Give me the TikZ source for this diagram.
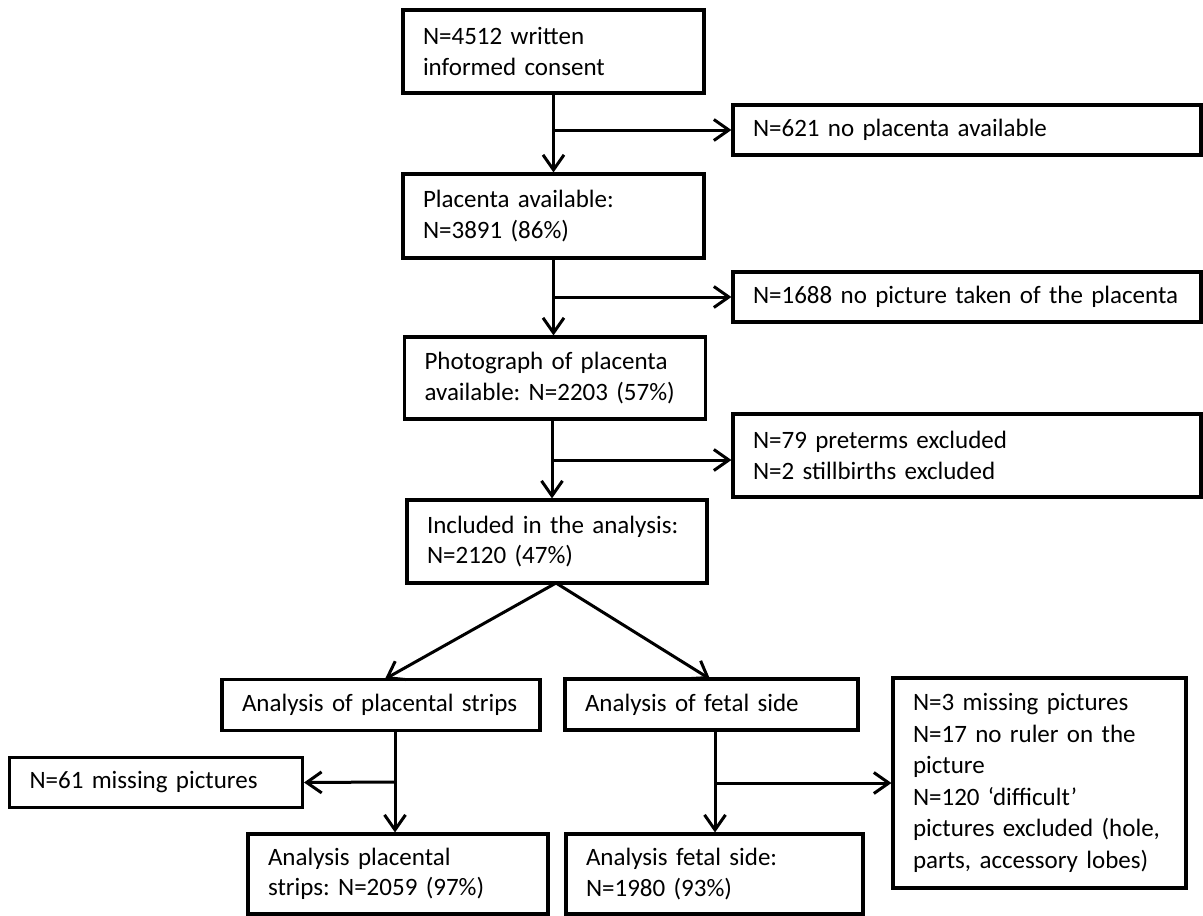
\documentclass[tikz,border=0pt]{standalone}
\usepackage{fontspec}
\setmainfont{Carlito}
\usetikzlibrary{arrows.meta}
\tikzset{
  box/.style={draw, line width=3.1pt, inner xsep=20pt, inner ysep=0pt, align=left,
    font=\fontsize{25}{30.5}\selectfont,
    execute at begin node={\frenchspacing\hyphenpenalty=10000\relax\exhyphenpenalty=10000\relax}},
  conn/.style={line width=3pt},
  arr/.style={conn, -{Straight Barb[length=15pt,width=21pt]}},
}
\begin{document}
\begin{tikzpicture}[x=1pt,y=-1pt]
\useasboundingbox (0,0) rectangle (1203,916);
% main column
\node[box, minimum width=301, minimum height=83, text width=261] (b1) at (553.5,51.5) {N=4512 written\\informed consent};
\node[box, minimum width=468, minimum height=50, text width=428] (s1) at (967,130) {N=621 no placenta available};
\node[box, minimum width=301, minimum height=84, text width=261] (b2) at (553.5,216) {Placenta available:\\N=3891 (86\%)};
\node[box, minimum width=468, minimum height=50, text width=428] (s2) at (967,297) {N=1688 no picture taken of the placenta};
\node[box, minimum width=301, minimum height=82, text width=261] (b3) at (555,378) {Photograph of placenta\\available: N=2203 (57\%)};
\node[box, minimum width=468, minimum height=83, text width=428] (s3) at (967,455.5) {N=79 preterms excluded\\N=2 stillbirths excluded};
\node[box, minimum width=300, minimum height=83, text width=260] (b4) at (557,541.5) {Included in the analysis:\\N=2120 (47\%)};
% second level
\node[box, minimum width=318, minimum height=51, text width=278] (pa) at (381,705) {Analysis of placental strips};
\node[box, minimum width=293, minimum height=51, text width=253] (fa) at (711.5,704.5) {Analysis of fetal side};
\node[box, minimum width=293, minimum height=50, text width=253] (m61) at (156,782.5) {N=61 missing pictures};
\node[box, minimum width=300, minimum height=80, text width=260] (pr) at (398,874) {Analysis placental\\strips: N=2059 (97\%)};
\node[box, minimum width=297, minimum height=80, text width=257] (fr) at (714.5,874) {Analysis fetal side:\\N=1980 (93\%)};
\node[box, minimum width=293, minimum height=210, text width=253, font=\fontsize{25}{31.5}\selectfont] (mx) at (1039.5,783) {N=3 missing pictures\\N=17 no ruler on the\\picture\\N=120 `difficult'\\pictures excluded (hole,\\parts, accessory lobes)};
% connectors
\coordinate (j1) at (b1.south |- s1.west);
\draw[arr] (b1.south) -- (b2.north);
\draw[arr] (j1) -- (s1.west);
\coordinate (j2) at (b2.south |- s2.west);
\draw[arr] (b2.south) -- (b2.south |- b3.north);
\draw[arr] (j2) -- (s2.west);
\coordinate (j3) at (552,460);
\draw[arr] (b3.south -| j3) -- (j3 |- b4.north);
\draw[arr] (j3) -- (j3 -| s3.west);
\coordinate (d0) at (556,583);
\coordinate (dl) at (385,679);
\coordinate (dr) at (710,679);
\draw[arr] (d0) -- (dl);
\draw[arr] (d0) -- (dr);
\coordinate (j4) at (395,782);
\draw[arr] (pa.south -| j4) -- (j4 |- pr.north);
\draw[arr] (j4) -- (m61.east);
\coordinate (j5) at (715,783);
\draw[arr] (fa.south -| j5) -- (j5 |- fr.north);
\draw[arr] (j5) -- (j5 -| mx.west);
\end{tikzpicture}
\end{document}
